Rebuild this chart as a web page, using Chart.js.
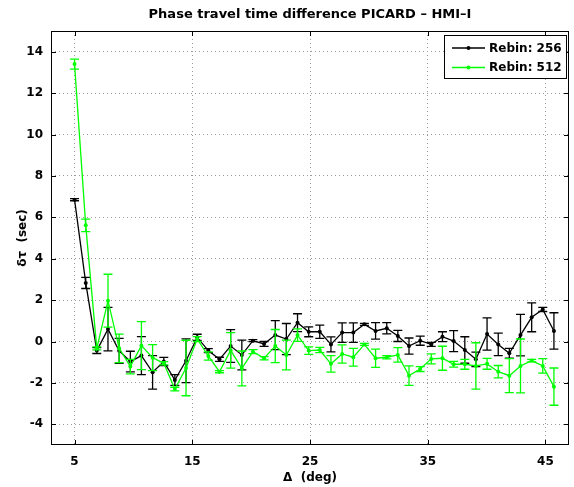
<!DOCTYPE html>
<html>
<head>
<meta charset="utf-8">
<title>Phase travel time difference PICARD - HMI-I</title>
<script src="https://cdn.jsdelivr.net/npm/chart.js@4.4.1/dist/chart.umd.min.js"></script>
<style>
  html, body { margin: 0; padding: 0; background: #fff; }
  canvas { display: block; }
</style>
</head>
<body>
<canvas id="chart" width="574" height="487"></canvas>
<script>
// angular distance (deg)
const deltaDeg = [5.00, 5.95, 6.89, 7.84, 8.79, 9.74, 10.68, 11.63, 12.58, 13.52,
  14.47, 15.42, 16.36, 17.31, 18.26, 19.21, 20.15, 21.10, 22.05, 22.99,
  23.94, 24.89, 25.83, 26.78, 27.73, 28.68, 29.62, 30.57, 31.52, 32.46,
  33.41, 34.36, 35.30, 36.25, 37.20, 38.15, 39.09, 40.04, 40.99, 41.93,
  42.88, 43.83, 44.77, 45.72];

// Rebin 256
const tau256 = [6.85, 2.83, -0.44, 0.60, -0.45, -0.97, -0.68, -1.49, -0.97, -1.86,
  -0.93, 0.20, -0.44, -0.86, -0.22, -0.65, 0.04, -0.12, 0.31, 0.12,
  0.91, 0.47, 0.47, -0.14, 0.43, 0.43, 0.83, 0.51, 0.64, 0.27,
  -0.22, 0.04, -0.14, 0.23, 0.02, -0.41, -0.86, 0.36, -0.14, -0.57,
  0.31, 1.17, 1.55, 0.51];
const err256 = [0.05, 0.27, 0.14, 1.05, 0.60, 0.50, 0.92, 0.81, 0.20, 0.26,
  1.06, 0.15, 0.10, 0.10, 0.79, 0.72, 0.05, 0.12, 0.70, 0.75,
  0.43, 0.24, 0.32, 0.36, 0.47, 0.47, 0.05, 0.40, 0.27, 0.27,
  0.39, 0.22, 0.10, 0.24, 0.51, 0.64, 0.35, 0.78, 0.54, 0.24,
  1.00, 0.70, 0.10, 0.88];

// Rebin 512
const tau512 = [13.40, 5.61, -0.33, 1.97, -0.33, -1.21, -0.20, -0.78, -1.05, -2.30,
  -1.28, 0.12, -0.70, -1.46, -0.43, -1.30, -0.49, -0.81, -0.22, -0.65,
  0.31, -0.44, -0.41, -1.08, -0.60, -0.76, -0.14, -0.81, -0.76, -0.65,
  -1.65, -1.33, -0.84, -0.81, -1.10, -1.10, -1.18, -1.08, -1.46, -1.65,
  -1.18, -0.92, -1.18, -2.18];
const err512 = [0.24, 0.30, 0.07, 1.28, 0.69, 0.35, 1.16, 0.63, 0.08, 0.09,
  1.34, 0.12, 0.20, 0.05, 0.86, 0.84, 0.10, 0.08, 0.80, 0.72,
  0.30, 0.18, 0.13, 0.40, 0.44, 0.43, 0.05, 0.44, 0.08, 0.35,
  0.47, 0.12, 0.24, 0.58, 0.14, 0.24, 1.12, 0.26, 0.30, 0.82,
  1.30, 0.06, 0.35, 0.90];

const xTicks = [5, 15, 25, 35, 45];
const yTicks = [-4, -2, 0, 2, 4, 6, 8, 10, 12, 14];

const FONT = "'DejaVu Sans', Verdana, sans-serif";
const GREEN = '#00ff00';

function points(ys) {
  return deltaDeg.map((x, i) => ({ x: x, y: ys[i] }));
}

// error bars, axis box, inner ticks, title and legend
const matlabLook = {
  id: 'matlabLook',
  afterDatasetDraw(chart, args) {
    const ds = chart.data.datasets[args.index];
    if (!ds.errors) return;
    const ctx = chart.ctx;
    const y = chart.scales.y;
    ctx.save();
    ctx.strokeStyle = ds.borderColor;
    ctx.lineWidth = 1.3;
    args.meta.data.forEach((pt, i) => {
      const v = ds.data[i].y, e = ds.errors[i];
      const top = y.getPixelForValue(v + e);
      const bot = y.getPixelForValue(v - e);
      ctx.beginPath();
      ctx.moveTo(pt.x, top); ctx.lineTo(pt.x, bot);
      ctx.moveTo(pt.x - 4.5, top); ctx.lineTo(pt.x + 4.5, top);
      ctx.moveTo(pt.x - 4.5, bot); ctx.lineTo(pt.x + 4.5, bot);
      ctx.stroke();
    });
    ctx.restore();
  },
  afterDraw(chart) {
    const ctx = chart.ctx;
    const a = chart.chartArea;
    const xs = chart.scales.x, ys = chart.scales.y;
    ctx.save();
    ctx.strokeStyle = '#000';
    ctx.lineWidth = 1;
    ctx.strokeRect(a.left + 0.5, a.top + 0.5, a.right - a.left - 1, a.bottom - a.top - 1);
    ctx.beginPath();
    xTicks.forEach(t => {
      const px = Math.round(xs.getPixelForValue(t)) + 0.5;
      ctx.moveTo(px, a.bottom); ctx.lineTo(px, a.bottom - 5);
      ctx.moveTo(px, a.top); ctx.lineTo(px, a.top + 5);
    });
    yTicks.forEach(t => {
      const py = Math.round(ys.getPixelForValue(t)) + 0.5;
      ctx.moveTo(a.left, py); ctx.lineTo(a.left + 5, py);
      ctx.moveTo(a.right, py); ctx.lineTo(a.right - 5, py);
    });
    ctx.stroke();

    // title
    ctx.fillStyle = '#000';
    ctx.font = 'bold 13px ' + FONT;
    ctx.textAlign = 'center';
    ctx.textBaseline = 'middle';
    ctx.fillText('Phase travel time difference PICARD \u2013 HMI\u2013I', (a.left + a.right) / 2, 15);

    // legend
    const lx = 444, ly = 35, lw = 122, lh = 43;
    ctx.fillStyle = '#fff';
    ctx.fillRect(lx, ly, lw, lh);
    ctx.strokeRect(lx + 0.5, ly + 0.5, lw, lh);
    chart.data.datasets.slice().sort((p, q) => q.order - p.order).forEach((ds, k) => {
      const yy = ly + 13 + k * 19.5;
      ctx.strokeStyle = ds.borderColor;
      ctx.lineWidth = 1.3;
      ctx.beginPath();
      ctx.moveTo(452, yy); ctx.lineTo(485, yy);
      ctx.stroke();
      ctx.fillStyle = ds.borderColor;
      ctx.beginPath();
      ctx.arc(468.5, yy, 2, 0, Math.PI * 2);
      ctx.fill();
      ctx.fillStyle = '#000';
      ctx.textAlign = 'left';
      ctx.font = 'bold 12px ' + FONT;
      ctx.fillText(ds.label, 489, yy + 0.5);
    });
    ctx.restore();
  }
};

new Chart(document.getElementById('chart'), {
  type: 'line',
  data: {
    datasets: [
      {
        label: 'Rebin: 256',
        data: points(tau256),
        errors: err256,
        borderColor: '#000',
        backgroundColor: '#000',
        borderWidth: 1.3,
        pointRadius: 2,
        pointBorderWidth: 0,
        order: 2
      },
      {
        label: 'Rebin: 512',
        data: points(tau512),
        errors: err512,
        borderColor: GREEN,
        backgroundColor: GREEN,
        borderWidth: 1.3,
        pointRadius: 2,
        pointBorderWidth: 0,
        order: 1
      }
    ]
  },
  options: {
    responsive: false,
    animation: false,
    layout: { padding: { top: 31, right: 5, left: 0, bottom: 0 } },
    plugins: {
      legend: { display: false },
      tooltip: { enabled: false }
    },
    scales: {
      x: {
        type: 'linear',
        min: 3,
        max: 47,
        afterBuildTicks: s => { s.ticks = xTicks.map(v => ({ value: v })); },
        afterFit: s => { s.height = 42; },
        grid: { color: '#9a9a9a', drawTicks: false },
        border: { display: false, dash: [1, 3] },
        ticks: {
          color: '#000',
          padding: 10,
          maxRotation: 0,
          font: { family: FONT, size: 12, weight: 'bold' }
        },
        title: {
          display: true,
          text: '\u0394  (deg)',
          color: '#000',
          padding: { top: 0, bottom: 2 },
          font: { family: FONT, size: 12, weight: 'bold' }
        }
      },
      y: {
        min: -5,
        max: 15,
        afterBuildTicks: s => { s.ticks = yTicks.map(v => ({ value: v })); },
        afterFit: s => { s.width = 51; },
        grid: { color: '#9a9a9a', drawTicks: false },
        border: { display: false, dash: [1, 3] },
        ticks: {
          color: '#000',
          padding: 8,
          font: { family: FONT, size: 12, weight: 'bold' }
        },
        title: {
          display: true,
          text: '\u03b4\u03c4  (sec)',
          color: '#000',
          padding: { top: 16, bottom: 0 },
          font: { family: FONT, size: 12, weight: 'bold' }
        }
      }
    }
  },
  plugins: [matlabLook]
});
</script>
</body>
</html>
